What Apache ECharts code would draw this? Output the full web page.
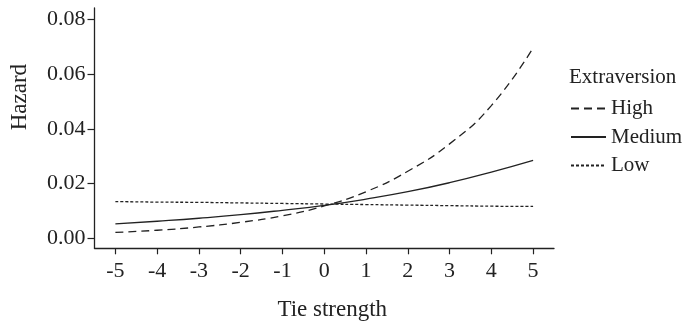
<!DOCTYPE html>
<html>
<head>
<meta charset="utf-8">
<script src="https://cdn.jsdelivr.net/npm/echarts@6/dist/echarts.min.js"></script>
<style>
  html, body { margin: 0; padding: 0; background: #fff; }
  #main { width: 685px; height: 324px; }
</style>
</head>
<body>
<div id="main"></div>
<script>
// values
var tieStrength = [-5, -4, -3, -2, -1, 0, 1, 2, 3, 4, 5];
var hazardHigh   = [0.0021, 0.0029, 0.0041, 0.0058, 0.0082, 0.0118, 0.0170, 0.0245, 0.0345, 0.0485, 0.0696];
var hazardMedium = [0.0052, 0.0062, 0.0073, 0.0086, 0.0102, 0.0120, 0.0143, 0.0170, 0.0203, 0.0242, 0.0285];
var hazardLow    = [0.0134, 0.0132, 0.0131, 0.0129, 0.0127, 0.0125, 0.0123, 0.0121, 0.0119, 0.0117, 0.0116];
var yTicks = [0, 0.02, 0.04, 0.06, 0.08];

var font = '"Liberation Serif", "DejaVu Serif", serif';
var ink = '#222';

function pairs(ys) {
    return tieStrength.map(function (x, i) { return [x, ys[i]]; });
}

var myChart = echarts.init(document.getElementById('main'));
var option = {
    animation: false,
    title: {
        text: 'Extraversion',
        left: 569,
        top: 67,
        padding: 0,
        textStyle: { fontFamily: font, fontSize: 21, fontWeight: 'normal', color: ink }
    },
    legend: {
        orient: 'vertical',
        left: 570,
        top: 98,
        padding: 0,
        itemWidth: 35,
        itemHeight: 14,
        itemGap: 7.5,
        data: ['High', 'Medium', 'Low'],
        itemStyle: { opacity: 0 },
        textStyle: { fontFamily: font, fontSize: 21, color: ink }
    },
    grid: {
        left: 94.5,
        right: 131,
        top: 8,
        bottom: 75.7,
        outerBoundsMode: 'none',
        containLabel: false
    },
    xAxis: {
        type: 'value',
        min: -5.5,
        max: 5.5,
        name: 'Tie strength',
        nameLocation: 'middle',
        nameGap: 50,
        nameTextStyle: { fontFamily: font, fontSize: 23, color: ink, padding: [0, 0, 0, 16] },
        splitLine: { show: false },
        axisLine: { onZero: false, lineStyle: { color: ink, width: 1.3 } },
        axisTick: { show: true, length: 6, customValues: tieStrength, lineStyle: { color: ink, width: 1.2 } },
        axisLabel: { customValues: tieStrength, margin: 12, fontFamily: font, fontSize: 22, color: ink }
    },
    yAxis: {
        type: 'value',
        min: -0.0037,
        max: 0.0842,
        name: 'Hazard',
        nameLocation: 'middle',
        nameGap: 63,
        nameRotate: 90,
        nameTextStyle: { fontFamily: font, fontSize: 23, color: ink, padding: [0, 0, 0, 62] },
        splitLine: { show: false },
        axisLine: { onZero: false, lineStyle: { color: ink, width: 1.3 } },
        axisTick: { show: true, length: 7, customValues: yTicks, lineStyle: { color: ink, width: 1.2 } },
        axisLabel: {
            customValues: yTicks,
            margin: 9,
            fontFamily: font,
            fontSize: 22,
            color: ink,
            formatter: function (v) { return v.toFixed(2); }
        }
    },
    series: [
        {
            name: 'High',
            type: 'line',
            smooth: true,
            symbol: 'none',
            data: pairs(hazardHigh),
            lineStyle: { color: ink, width: 1.3, type: [8, 5] },
            itemStyle: { color: ink }
        },
        {
            name: 'Medium',
            type: 'line',
            smooth: true,
            symbol: 'none',
            data: pairs(hazardMedium),
            lineStyle: { color: ink, width: 1.3, type: 'solid' },
            itemStyle: { color: ink }
        },
        {
            name: 'Low',
            type: 'line',
            smooth: true,
            symbol: 'none',
            data: pairs(hazardLow),
            lineStyle: { color: ink, width: 1.3, type: [3, 2] },
            itemStyle: { color: ink }
        }
    ]
};
myChart.setOption(option);
</script>
</body>
</html>
